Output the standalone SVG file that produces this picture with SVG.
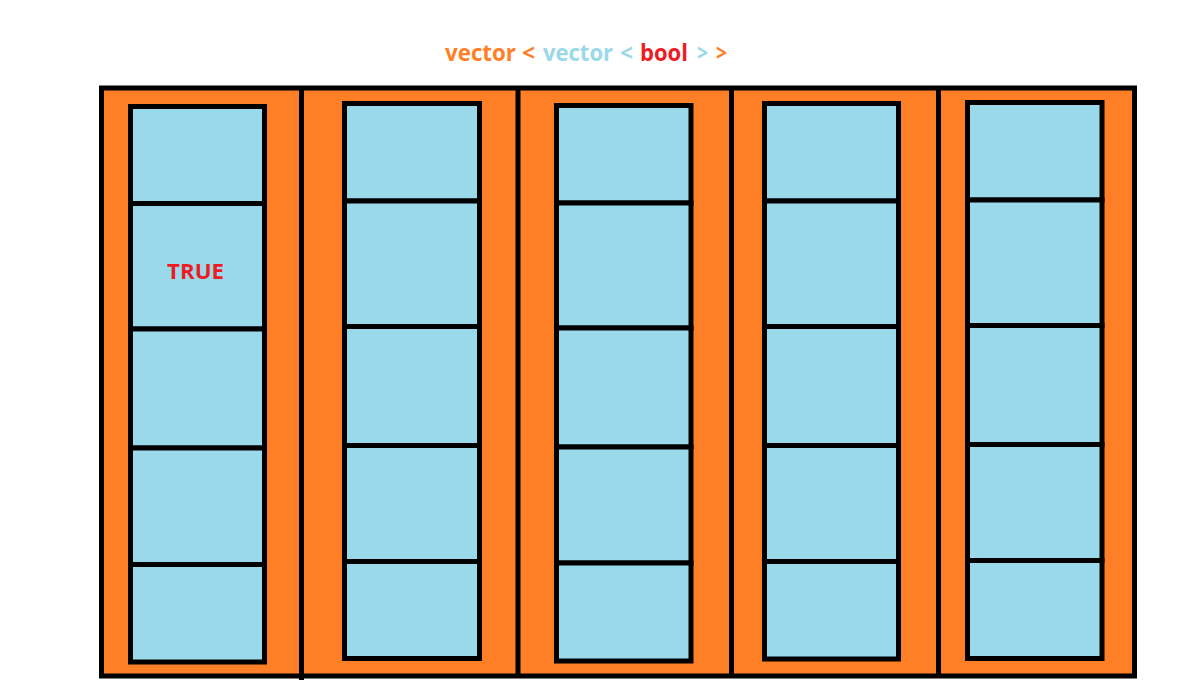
<svg xmlns="http://www.w3.org/2000/svg" width="1196" height="690" viewBox="0 0 1196 690">
  <style>
    .outer { fill: #FF7F27; stroke: #000; stroke-width: 5; }
    .sep { stroke: #000; stroke-width: 5; fill: none; }
    .cell { fill: #99D9EA; stroke: #000; stroke-width: 5; }
    .title { font-family: "Open Sans", "Liberation Sans", sans-serif; font-weight: bold; font-size: 24px; }
    .o { fill: #FF7F27; }
    .b { fill: #99D9EA; }
    .r { fill: #ED1C24; }
    .lbl { font-family: "Open Sans", "Liberation Sans", sans-serif; font-weight: bold; font-size: 21px; fill: #ED1C24; }
  </style>
  <rect width="1196" height="690" fill="#fff"/>
  <g id="title">
    <text class="title o" x="445" y="61" textLength="71" lengthAdjust="spacingAndGlyphs">vector</text>
    <text class="title o" x="522" y="61" textLength="13" lengthAdjust="spacingAndGlyphs">&lt;</text>
    <text class="title b" x="543" y="61" textLength="70" lengthAdjust="spacingAndGlyphs">vector</text>
    <text class="title b" x="620" y="61" textLength="13" lengthAdjust="spacingAndGlyphs">&lt;</text>
    <text class="title r" x="640" y="61" textLength="48" lengthAdjust="spacingAndGlyphs">bool</text>
    <text class="title b" x="697" y="61" textLength="11" lengthAdjust="spacingAndGlyphs">&gt;</text>
    <text class="title o" x="716" y="61" textLength="11" lengthAdjust="spacingAndGlyphs">&gt;</text>
  </g>
  <g id="outer-vector">
    <rect class="outer" x="101.5" y="88" width="1033" height="588"/>
    <line class="sep" x1="301.5" y1="88" x2="301.5" y2="680"/>
    <line class="sep" x1="518" y1="88" x2="518" y2="676" stroke-width="4"/>
    <line class="sep" x1="731.5" y1="88" x2="731.5" y2="676"/>
    <line class="sep" x1="938.5" y1="88" x2="938.5" y2="676"/>
  </g>
  <g id="col1">
    <rect class="cell" x="130.5" y="106.5" width="134" height="97"/>
    <rect class="cell" x="130.5" y="203.5" width="134" height="125.5"/>
    <rect class="cell" x="130.5" y="329" width="134" height="119"/>
    <rect class="cell" x="130.5" y="448" width="134" height="116.5"/>
    <rect class="cell" x="130.5" y="564.5" width="134" height="97.5"/>
    <text class="lbl" x="195.5" y="279" text-anchor="middle" textLength="57" lengthAdjust="spacingAndGlyphs">TRUE</text>
  </g>
  <g id="col2">
    <rect class="cell" x="344.5" y="103.5" width="135" height="97.5"/>
    <rect class="cell" x="344.5" y="201" width="135" height="125.5"/>
    <rect class="cell" x="344.5" y="326.5" width="135" height="119"/>
    <rect class="cell" x="344.5" y="445.5" width="135" height="116"/>
    <rect class="cell" x="344.5" y="561.5" width="135" height="97"/>
  </g>
  <g id="col3">
    <rect class="cell" x="556.5" y="105.5" width="134.5" height="97.5"/>
    <rect class="cell" x="556.5" y="203" width="134.5" height="125"/>
    <rect class="cell" x="556.5" y="328" width="134.5" height="119"/>
    <rect class="cell" x="556.5" y="447" width="134.5" height="116"/>
    <rect class="cell" x="556.5" y="563" width="134.5" height="98"/>
  </g>
  <g id="col4">
    <rect class="cell" x="764.5" y="103.5" width="134" height="97.5"/>
    <rect class="cell" x="764.5" y="201" width="134" height="125.5"/>
    <rect class="cell" x="764.5" y="326.5" width="134" height="119"/>
    <rect class="cell" x="764.5" y="445.5" width="134" height="116"/>
    <rect class="cell" x="764.5" y="561.5" width="134" height="97.5"/>
  </g>
  <g id="col5">
    <rect class="cell" x="967.5" y="102.5" width="134.5" height="97.5"/>
    <rect class="cell" x="967.5" y="200" width="134.5" height="125.5"/>
    <rect class="cell" x="967.5" y="325.5" width="134.5" height="119"/>
    <rect class="cell" x="967.5" y="444.5" width="134.5" height="116"/>
    <rect class="cell" x="967.5" y="560.5" width="134.5" height="98"/>
  </g>
</svg>
